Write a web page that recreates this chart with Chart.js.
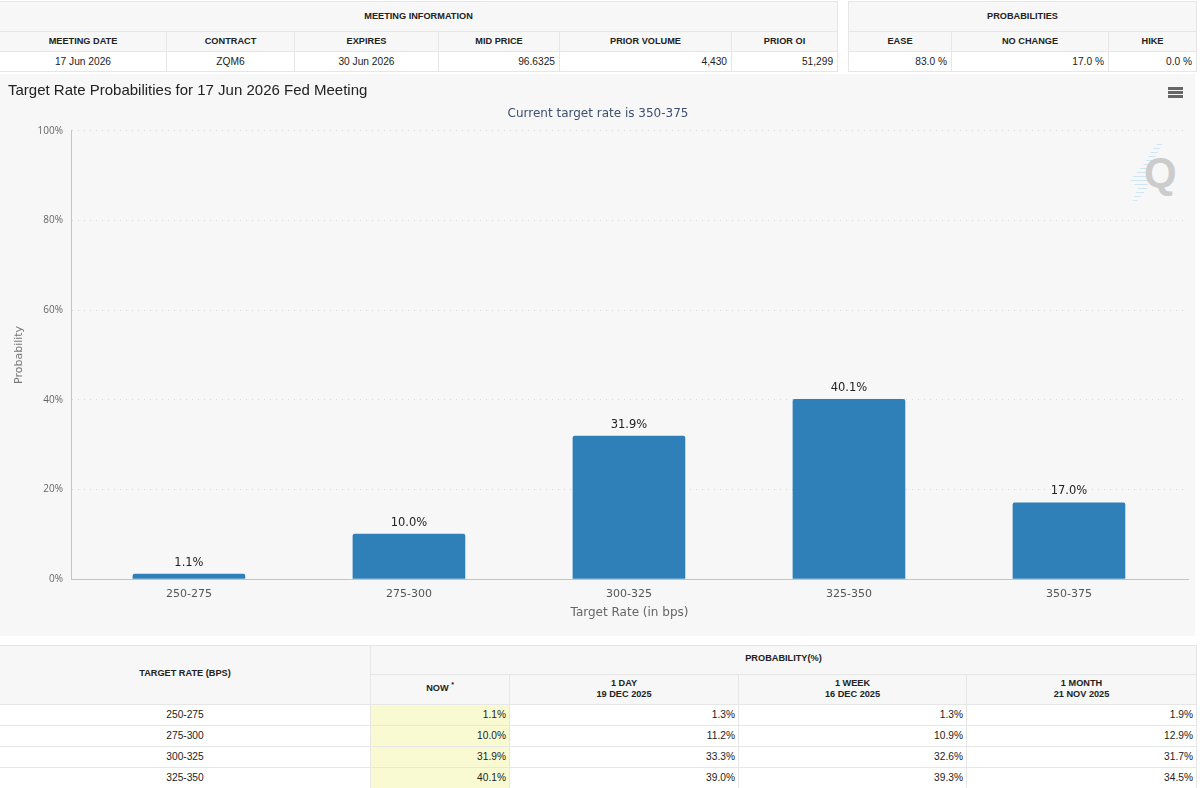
<!DOCTYPE html>
<html>
<head>
<meta charset="utf-8">
<script src="https://cdn.jsdelivr.net/npm/chart.js@4"></script>
<style>
    html, body { margin: 0; padding: 0; width: 1200px; height: 788px; overflow: hidden; background: #fff; }
    table { position: absolute; border-collapse: collapse; table-layout: fixed; font-family: "Liberation Sans", Arial, sans-serif; font-size: 10.2px; color: #222; background: #fff; }
    th, td { border: 1px solid #e6e6e6; padding: 0 4px; overflow: hidden; white-space: nowrap; }
    th { background: #f7f7f7; font-size: 9.2px; font-weight: bold; text-align: center; color: #222; line-height: 11px; }
    td { text-align: center; }
    td.num { text-align: right; }
    td.now { background: #fafad2; }
    #meeting-table { left: -1px; top: 1px; width: 838px; }
    #prob-table { left: 848px; top: 1px; width: 348px; }
    #rate-table { left: -1px; top: 645px; width: 1197px; }
    #rate-table td { padding: 0 3px 2px; }
    #rate-table th { padding: 0 3px 2px; }
    #rate-table tr:first-child th { padding-bottom: 3px; }
    #rate-table sup { font-size: 7px; line-height: 0; }
    #chart-card { position: absolute; left: 0; top: 74px; width: 1195px; height: 562px; background: #f7f7f7; }
    #chart-card canvas { position: absolute; left: 0; top: 0; }
    #menu-icon { position: absolute; left: 1168px; top: 13px; width: 15px; height: 11px; background: repeating-linear-gradient(#666 0 3px, transparent 3px 4px); }
    #logo-lines { position: absolute; left: 1130px; top: 66px; width: 36px; height: 62px; background: repeating-linear-gradient(#cfe6f2 0 1px, transparent 1px 4px); clip-path: polygon(34px 1px, 28px 12px, 22px 22px, 18px 24px, 18px 48px, 6px 62px, 2px 62px, 8px 48px, 0 40px, 14px 24px, 22px 10px, 30px 1px); }
    #logo-q { position: absolute; left: 1144px; top: 75px; font: bold 42px "Liberation Sans", Arial, sans-serif; color: #cccccc; }
</style>
</head>
<body>
<table id="meeting-table"></table>
<table id="prob-table"></table>
<div id="chart-card">
    <div id="logo-lines"></div>
    <div id="logo-q">Q</div>
    <canvas id="rate-chart" width="1195" height="562"></canvas>
    <div id="menu-icon"></div>
</div>
<table id="rate-table"></table>
<script>
const targetRates = ['250-275', '275-300', '300-325', '325-350', '350-375'];
const nowValues = [1.1, 10.0, 31.9, 40.1, 17.0];
const yTicks = [0, 20, 40, 60, 80, 100];

const meetingHeaders = ['MEETING DATE', 'CONTRACT', 'EXPIRES', 'MID PRICE', 'PRIOR VOLUME', 'PRIOR OI'];
const meetingRow = ['17 Jun 2026', 'ZQM6', '30 Jun 2026', '96.6325', '4,430', '51,299'];
const meetingWidths = [167, 128, 144, 121, 172, 106];
const probHeaders = ['EASE', 'NO CHANGE', 'HIKE'];
const probRow = ['83.0 %', '17.0 %', '0.0 %'];
const probWidths = [103, 157, 88];

// Table rows for the rate history, the last rate is below the fold
const tableRates = ['250-275', '275-300', '300-325', '325-350'];
const tableNow = ['1.1%', '10.0%', '31.9%', '40.1%'];
const oneDay = ['1.3%', '11.2%', '33.3%', '39.0%'];
const oneWeek = ['1.3%', '10.9%', '32.6%', '39.3%'];
const oneMonth = ['1.9%', '12.9%', '31.7%', '34.5%'];
const rateWidths = [371, 139, 229, 228, 230];

const colgroup = (widths) => `<colgroup>${widths.map(w => `<col style="width:${w}px">`).join('')}</colgroup>`;

const renderInfoTable = (selector, title, headers, row, widths, numFrom) => {
    const table = document.querySelector(selector);
    table.innerHTML = colgroup(widths)
        + `<tr style="height:30px"><th colspan="${headers.length}">${title}</th></tr>`
        + `<tr style="height:20px">${headers.map(h => `<th>${h}</th>`).join('')}</tr>`
        + `<tr style="height:20px">${row.map((v, i) => `<td class="${i >= numFrom ? 'num' : ''}">${v}</td>`).join('')}</tr>`;
};

const renderRateTable = () => {
    const table = document.querySelector('#rate-table');
    const rows = tableRates.map((rate, i) => `<tr style="height:21px"><td>${rate}</td>`
        + `<td class="num now">${tableNow[i]}</td><td class="num">${oneDay[i]}</td>`
        + `<td class="num">${oneWeek[i]}</td><td class="num">${oneMonth[i]}</td></tr>`);
    table.innerHTML = colgroup(rateWidths)
        + '<tr style="height:29px"><th rowspan="2">TARGET RATE (BPS)</th><th colspan="4">PROBABILITY(%)</th></tr>'
        + '<tr style="height:30px"><th>NOW <sup>*</sup></th><th>1 DAY<br>19 DEC 2025</th>'
        + '<th>1 WEEK<br>16 DEC 2025</th><th>1 MONTH<br>21 NOV 2025</th></tr>'
        + rows.join('');
};

renderInfoTable('#meeting-table', 'MEETING INFORMATION', meetingHeaders, meetingRow, meetingWidths, 3);
renderInfoTable('#prob-table', 'PROBABILITIES', probHeaders, probRow, probWidths, 0);
renderRateTable();

// Value labels above each bar
const barLabels = {
    id: 'barLabels',
    afterDatasetsDraw(chart) {
        const { ctx } = chart;
        ctx.save();
        ctx.font = '11.5px "DejaVu Sans"';
        ctx.fillStyle = '#222';
        ctx.textAlign = 'center';
        ctx.textBaseline = 'middle';
        chart.getDatasetMeta(0).data.forEach((bar, i) => {
            ctx.fillText(`${nowValues[i].toFixed(1)}%`, bar.x, bar.y - 11.5);
        });
        ctx.restore();
    }
};

new Chart(document.querySelector('#rate-chart').getContext('2d'), {
    type: 'bar',
    data: {
        datasets: [
            {
                data: nowValues.map((value, i) => ({ x: i, y: value })),
                backgroundColor: '#2f80b9',
                barThickness: 112,
                borderRadius: { topLeft: 2, topRight: 2 }
            }
        ]
    },
    options: {
        responsive: false,
        animation: false,
        layout: { padding: { left: 8, right: 7 } },
        plugins: {
            legend: { display: false },
            tooltip: { enabled: false },
            title: {
                display: true,
                text: 'Target Rate Probabilities for 17 Jun 2026 Fed Meeting',
                align: 'start',
                color: '#222',
                font: { family: '"Liberation Sans"', size: 15, weight: 'normal' },
                padding: { top: 8, bottom: 6.5 }
            },
            subtitle: {
                display: true,
                text: 'Current target rate is 350-375',
                color: '#3d5073',
                font: { family: '"DejaVu Sans"', size: 12 },
                padding: { top: 0, bottom: 10 }
            }
        },
        scales: {
            x: {
                type: 'linear',
                offset: false,
                min: -0.536,
                max: 4.541,
                // The categories sit slightly inside the axis ends
                afterBuildTicks: (scale) => { scale.ticks = targetRates.map((_, i) => ({ value: i })); },
                afterFit: (scale) => { scale.height = 57; },
                grid: { display: false },
                border: { color: '#c4c4c4' },
                ticks: {
                    callback: (value) => targetRates[value],
                    color: '#555',
                    font: { family: '"DejaVu Sans"', size: 11 },
                    maxRotation: 0,
                    autoSkip: false,
                    padding: 1
                },
                title: {
                    display: true,
                    text: 'Target Rate (in bps)',
                    color: '#666',
                    font: { family: '"DejaVu Sans"', size: 12 },
                    padding: { top: 0, bottom: 16 }
                }
            },
            y: {
                min: 0,
                max: 100,
                afterBuildTicks: (scale) => { scale.ticks = yTicks.map(value => ({ value })); },
                afterFit: (scale) => { scale.width = 63; },
                grid: { color: '#d8d8d8', drawTicks: false },
                border: { color: '#c4c4c4', dash: [1, 5] },
                ticks: {
                    callback: (value) => `${value}%`,
                    color: '#666',
                    font: { family: '"Open Sans"', size: 10 },
                    padding: 8
                },
                title: {
                    display: true,
                    text: 'Probability',
                    color: '#777',
                    font: { family: '"DejaVu Sans"', size: 11 },
                    padding: { top: 5, bottom: 0 }
                }
            }
        }
    },
    plugins: [barLabels]
});
</script>
</body>
</html>
